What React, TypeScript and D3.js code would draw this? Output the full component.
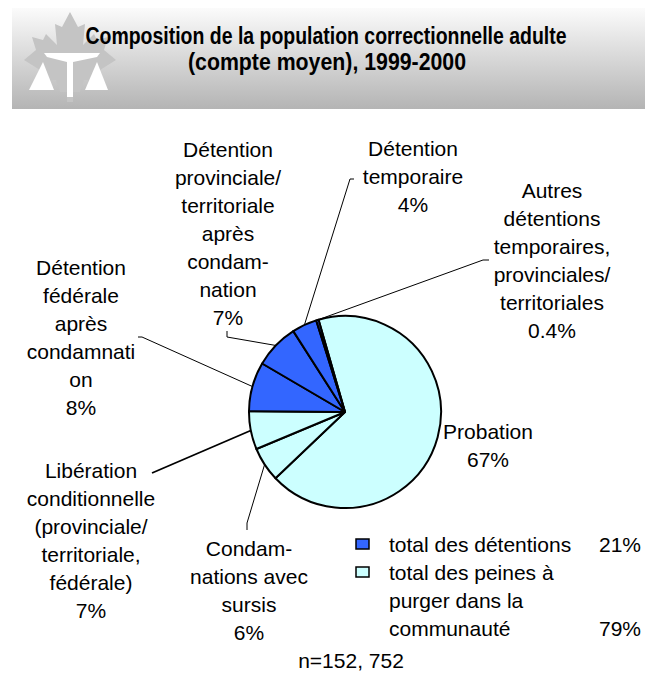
import React from "react";
import * as d3 from "d3";

// ---- data ----
const categories = [
  "Probation",
  "Condamnations avec sursis",
  "Libération conditionnelle",
  "Détention fédérale après condamnation",
  "Détention provinciale/territoriale après condamnation",
  "Détention temporaire",
  "Autres détentions temporaires, provinciales/territoriales",
];
const values = [67.2, 5.8, 6.4, 8.3, 7.5, 4.2, 0.4];
const groups = ["community", "community", "community", "detention", "detention", "detention", "detention"];
const pctLabels = ["67%", "6%", "7%", "8%", "7%", "4%", "0.4%"];
const labelLines = [
  ["Probation"],
  ["Condam-", "nations avec", "sursis"],
  ["Libération", "conditionnelle", "(provinciale/", "territoriale,", "fédérale)"],
  ["Détention", "fédérale", "après", "condamnati", "on"],
  ["Détention", "provinciale/", "territoriale", "après", "condam-", "nation"],
  ["Détention", "temporaire"],
  ["Autres", "détentions", "temporaires,", "provinciales/", "territoriales"],
];
const legendLabels = [
  ["total des détentions"],
  ["total des peines à", "purger dans la", "communauté"],
];
const legendPcts = ["21%", "79%"];
const titleLines = [
  "Composition de la population correctionnelle adulte",
  "(compte moyen), 1999-2000",
];
const footnote = "n=152, 752";

// ---- layout ----
const W = 656;
const H = 675;
const cx = 345;
const cy = 412;
const R = 96;
const startDeg = -16;
const colors: Record<string, string> = { detention: "#3366FF", community: "#CCFFFF" };
const font = "'Liberation Sans', Arial, Helvetica, sans-serif";
const fs = 21;
const lh = 28;

// label anchors: center x, first line center y, leader path points after the arc point
const labelLayout = [
  { x: 488, y: 431, leader: null as null | number[][], lw: 1 },
  { x: 249, y: 548, leader: [[247, 523], [247, 530]], lw: 1 },
  { x: 91, y: 470, leader: [[152, 473]], lw: 1.8 },
  { x: 81, y: 267, leader: [[142, 337], [138, 337]], lw: 1 },
  { x: 228, y: 149, leader: [[227, 337], [227, 331]], lw: 1 },
  { x: 413, y: 148, leader: [[350, 179], [354, 179]], lw: 1 },
  { x: 552, y: 190, leader: [[483, 260], [489, 260]], lw: 1 },
];

function leafPath(): string {
  const right = [
    [70, 12], [78, 27], [85, 24], [83, 45], [94, 34], [97, 40], [108, 37],
    [104, 50], [116, 60], [100, 70], [104, 81], [84, 80], [80, 92], [73, 92], [73, 102],
  ];
  const left = right.slice(1).reverse().map(([x, y]) => [140 - x, y]);
  const pts = [...right, ...left];
  return "M" + pts.map((p) => p.join(",")).join("L") + "Z";
}

export default function App() {
  const data = categories.map((c, i) => ({ c, v: values[i], g: groups[i], i }));
  const start = (startDeg * Math.PI) / 180;
  const pie = d3
    .pie<any>()
    .sort(null)
    .value((d) => d.v)
    .startAngle(start)
    .endAngle(start + 2 * Math.PI);
  const arcs = pie(data);
  const arcGen = d3.arc<any>().innerRadius(0).outerRadius(R);
  const titleFont = "'Liberation Sans Narrow', 'Arial Narrow', 'Liberation Sans', Arial, sans-serif";

  return (
    <svg
      width={W}
      height={H}
      viewBox={`0 0 ${W} ${H}`}
      style={{ position: "absolute", left: 0, top: 0, background: "#fff" }}
    >
      <defs>
        <linearGradient id="hdr" x1="0" y1="0" x2="0" y2="1">
          <stop offset="0%" stopColor="#fbfbfb" />
          <stop offset="100%" stopColor="#b4b4b4" />
        </linearGradient>
      </defs>
      <rect x={0} y={0} width={W} height={H} fill="#fff" />
      {/* header */}
      <rect x={12} y={8} width={633} height={101} fill="url(#hdr)" />
      <path d={leafPath()} fill="#c4c4c4" />
      <g fill="#fff">
        <polygon points="44,53 100,53 97,57 73,62 67,62 47,57" />
        <rect x={67} y={62} width={6} height={35} />
        <polygon points="43,62 29,90 54,90" />
        <polygon points="97,62 85,90 108,90" />
      </g>
      <text
        x={326}
        y={44}
        textAnchor="middle"
        fontFamily={titleFont}
        fontWeight="bold"
        fontSize={23}
        textLength={481}
        lengthAdjust="spacingAndGlyphs"
        fill="#000"
      >
        {titleLines[0]}
      </text>
      <text
        x={327}
        y={70}
        textAnchor="middle"
        fontFamily={titleFont}
        fontWeight="bold"
        fontSize={23}
        textLength={278}
        lengthAdjust="spacingAndGlyphs"
        fill="#000"
      >
        {titleLines[1]}
      </text>

      {/* pie */}
      <g transform={`translate(${cx},${cy})`}>
        {arcs.map((a, i) => (
          <path key={i} d={arcGen(a) as string} fill={colors[a.data.g]} stroke="#000" strokeWidth={2} strokeLinejoin="round" />
        ))}
      </g>

      {/* leader lines */}
      {arcs.map((a, i) => {
        const L = labelLayout[i];
        if (!L.leader) return null;
        const mid = (a.startAngle + a.endAngle) / 2;
        const p0 = [cx + R * Math.sin(mid), cy - R * Math.cos(mid)];
        const pts = [p0, ...L.leader];
        return (
          <polyline
            key={"l" + i}
            points={pts.map((p) => p.join(",")).join(" ")}
            fill="none"
            stroke="#000"
            strokeWidth={L.lw}
          />
        );
      })}

      {/* labels */}
      <g fontFamily={font} fontSize={fs} fill="#000" textAnchor="middle">
        {labelLines.map((lines, i) => {
          const L = labelLayout[i];
          const all = [...lines, pctLabels[i]];
          return (
            <g key={"t" + i}>
              {all.map((s, j) => (
                <text key={j} x={L.x} y={L.y + j * lh} dominantBaseline="central">
                  {s}
                </text>
              ))}
            </g>
          );
        })}
      </g>

      {/* legend */}
      <g fontFamily={font} fontSize={fs} fill="#000">
        {legendLabels.map((lines, k) => {
          const y0 = k === 0 ? 544 : 572;
          const g = k === 0 ? "detention" : "community";
          return (
            <g key={"lg" + k}>
              <rect x={356} y={y0 - 5} width={13} height={10} fill={colors[g]} stroke="#000" strokeWidth={1.5} />
              {lines.map((s, j) => (
                <text key={j} x={389} y={y0 + j * lh} dominantBaseline="central">
                  {s}
                </text>
              ))}
              <text x={599} y={y0 + (lines.length - 1) * lh} dominantBaseline="central">
                {legendPcts[k]}
              </text>
            </g>
          );
        })}
      </g>

      <text x={351} y={660} textAnchor="middle" dominantBaseline="central" fontFamily={font} fontSize={fs}>
        {footnote}
      </text>
    </svg>
  );
}
